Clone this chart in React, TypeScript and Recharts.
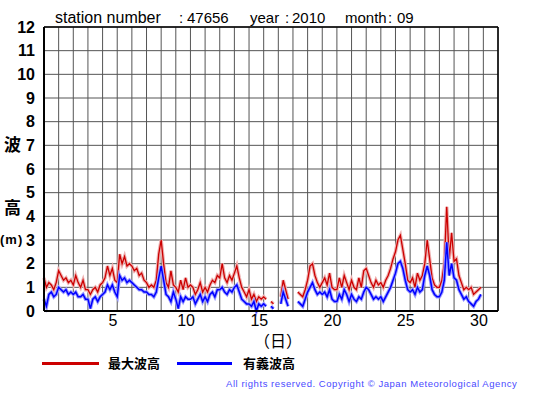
import {
  CartesianGrid,
  Line,
  LineChart,
  ReferenceLine,
  XAxis,
  YAxis,
} from 'recharts'

// 6 readings per day (every 4 hours), Sept 1 .. Sept 30
const stepsPerDay = 6

// 最大波高 (m)
const maxWave: (number | null)[] = [
  1.4, 1.0, 1.2, 1.1, 0.9, 1.2,
  1.7, 1.5, 1.3, 1.4, 1.2, 1.3,
  1.1, 1.5, 1.2, 1.0, 1.3, 0.9,
  0.9, 0.7, 0.9, 1.0, 0.8, 1.1,
  1.2, 1.4, 1.9, 1.5, 1.8, 1.3,
  1.2, 2.4, 2.0, 2.3, 1.9, 2.0,
  1.9, 1.7, 1.8, 1.5, 1.6, 1.3,
  1.2, 1.0, 1.1, 1.0, 1.3, 2.4,
  3.0, 2.0, 1.2, 1.0, 1.7, 1.1,
  1.0, 0.8, 1.3, 0.9, 1.4, 1.0,
  1.1, 1.0, 0.7, 0.9, 1.2, 0.8,
  1.0, 0.8, 1.1, 1.3, 1.2, 1.5,
  1.4, 2.0, 1.4, 1.2, 1.5, 1.3,
  1.6, 1.9, 1.4, 1.0, 0.8, 0.6,
  0.9, 0.5, 0.7, 0.4, 0.6, 0.5,
  0.6, 0.5, null, 0.4, 0.3, null,
  null, 0.6, 1.3, 0.9, 0.5, null,
  0.9, null, 0.8, 0.7, 0.6, 0.9,
  1.3, 1.9, 2.0, 1.5, 1.2, 1.0,
  1.2, 1.4, 1.1, 1.6, 1.0, 0.9,
  0.9, 1.4, 1.0, 1.5, 1.2, 0.9,
  1.3, 1.0, 0.9, 1.4, 1.0, 1.7,
  1.8, 1.5, 1.2, 1.0, 1.3, 1.1,
  1.2, 1.0, 1.3, 1.5, 1.8, 2.2,
  2.5, 3.0, 3.2, 2.6, 2.0, 1.3,
  1.2, 1.4, 1.0, 1.6, 1.3, 1.5,
  2.0, 3.0, 2.2, 1.4, 1.1, 1.0,
  1.0, 1.3, 2.0, 4.4, 2.2, 3.3,
  2.1, 2.2, 1.5, 1.2, 0.9, 1.0,
  0.9, 1.0, 0.7, 0.8, 0.9, 1.0,
]

// 有義波高 (m)
const sigWave: (number | null)[] = [
  0.5, 0.2, 0.7, 0.8, 0.6, 0.7,
  1.0, 0.9, 0.8, 0.9, 0.7, 0.8,
  0.7, 0.8, 0.6, 0.6, 0.7, 0.5,
  0.5, 0.1, 0.5, 0.6, 0.4, 0.6,
  0.7, 0.8, 1.1, 0.9, 1.1, 0.8,
  0.6, 1.5, 1.3, 1.4, 1.2, 1.3,
  1.2, 1.1, 1.0, 0.9, 0.9, 0.8,
  0.8, 0.7, 0.7, 0.6, 0.8, 1.4,
  1.9, 1.3, 0.7, 0.6, 0.4, 0.8,
  0.5, 0.1, 0.6, 0.4, 0.6, 0.5,
  0.5, 0.6, 0.3, 0.5, 0.7, 0.4,
  0.6, 0.4, 0.7, 0.8, 0.6, 0.9,
  0.9, 1.0, 0.8, 0.7, 0.9, 0.8,
  1.0, 1.1, 0.8, 0.5, 0.4, 0.3,
  0.3, 0.2, 0.4, 0.0, 0.3, 0.2,
  0.3, 0.2, null, 0.2, 0.1, null,
  null, 0.3, 0.8, 0.5, 0.2, null,
  0.5, null, 0.4, 0.3, 0.2, 0.5,
  0.8, 1.0, 1.2, 0.9, 0.7, 0.8,
  0.7, 0.8, 0.6, 0.9, 0.5, 0.4,
  0.4, 0.7, 0.5, 0.9, 0.7, 0.4,
  0.7, 0.5, 0.4, 0.6, 0.5, 0.8,
  1.0, 0.9, 0.7, 0.5, 0.6, 0.5,
  0.6, 0.4, 0.6, 0.8, 1.0, 1.3,
  1.6, 2.0, 2.1, 1.8, 1.3, 0.9,
  0.8, 0.9, 0.7, 1.0, 0.8, 0.9,
  1.5, 1.9, 1.5, 0.9, 0.7, 0.6,
  0.6, 0.8, 1.3, 2.9, 1.5, 2.0,
  1.4, 1.3, 0.9, 0.7, 0.5, 0.6,
  0.4, 0.3, 0.2, 0.4, 0.5, 0.7,
]

const dayTicks = Array.from({ length: 32 }, (_, i) => i + 1)
const labelDays = [5, 10, 15, 20, 25, 30]
const yTicks = Array.from({ length: 13 }, (_, i) => i)

const data = maxWave.map((v, i) => ({
  t: 1 + i / stepsPerDay,
  max: v,
  sig: sigWave[i],
}))

const W = 555
const H = 395
const plotLeft = 44
const plotRight = 498
const dayPx = (plotRight - plotLeft) / 31

const sans = '"Liberation Sans", Arial, sans-serif'
const cjk = '"Noto Sans CJK JP", sans-serif'

function DayTick(props: any) {
  const { x, y, payload } = props
  if (!labelDays.includes(payload.value)) return null
  return (
    <text
      x={x + dayPx * 0.7}
      y={y + 7}
      textAnchor='middle'
      fontSize={16}
      fontFamily={sans}
      fill='#000'
    >
      {payload.value}
    </text>
  )
}

const txt = (top: number, left: number, size = 15, bold = false) => ({
  position: 'absolute' as const,
  top,
  left,
  fontFamily: sans,
  fontSize: size,
  fontWeight: bold ? 'bold' : 'normal',
  whiteSpace: 'pre' as const,
  lineHeight: 1,
})

export default function App() {
  return (
    <div
      style={{
        position: 'absolute',
        left: 0,
        top: 0,
        width: W,
        height: H,
        background: '#fff',
        overflow: 'hidden',
      }}
    >
      <LineChart
        width={W}
        height={H}
        data={data}
        margin={{ top: 27, right: W - plotRight, left: 4, bottom: 64 }}
      >
        <CartesianGrid stroke='#555' strokeWidth={1} />
        <XAxis
          dataKey='t'
          type='number'
          domain={[1, 32]}
          ticks={dayTicks}
          interval={0}
          height={20}
          tickLine={false}
          axisLine={{ stroke: '#000', strokeWidth: 2 }}
          tick={<DayTick />}
        />
        <YAxis
          type='number'
          domain={[0, 12]}
          ticks={yTicks}
          interval={0}
          width={40}
          tickLine={false}
          tickMargin={3}
          axisLine={{ stroke: '#000', strokeWidth: 2 }}
          tick={{
            fill: '#000',
            fontSize: 16,
            fontWeight: 'bold',
            fontFamily: sans,
          }}
        />
        <ReferenceLine y={12} stroke='#000' strokeWidth={1.5} />
        <ReferenceLine x={32} stroke='#000' strokeWidth={1.5} />
        {/* pale halo under each series, like the hourly scatter in the original */}
        <Line
          type='linear'
          dataKey='max'
          stroke='#eeb0b0'
          strokeWidth={3.5}
          dot={false}
          isAnimationActive={false}
        />
        <Line
          type='linear'
          dataKey='max'
          stroke='#cc0000'
          strokeWidth={1.3}
          dot={false}
          isAnimationActive={false}
        />
        <Line
          type='linear'
          dataKey='sig'
          stroke='#9a9aff'
          strokeWidth={3.5}
          dot={false}
          isAnimationActive={false}
        />
        <Line
          type='linear'
          dataKey='sig'
          stroke='#0000ff'
          strokeWidth={1.5}
          dot={false}
          isAnimationActive={false}
        />
      </LineChart>

      {/* title */}
      <div style={txt(10, 55, 16)}>station number</div>
      <div style={txt(10, 179, 15)}>:</div>
      <div style={txt(10, 187, 15)}>47656</div>
      <div style={txt(10, 250, 15)}>year</div>
      <div style={txt(10, 285, 15)}>:</div>
      <div style={txt(10, 292, 15)}>2010</div>
      <div style={txt(10, 345, 15)}>month</div>
      <div style={txt(10, 388, 15)}>:</div>
      <div style={txt(10, 397, 15)}>09</div>

      {/* y axis title */}
      <div style={{ position: 'absolute', top: 131, left: 4, fontFamily: cjk, fontSize: 17, fontWeight: 'bold' }}>波</div>
      <div style={{ position: 'absolute', top: 194, left: 4, fontFamily: cjk, fontSize: 17, fontWeight: 'bold' }}>高</div>
      <div style={{ ...txt(233, 0, 13, true), letterSpacing: 1 }}>(m)</div>

      {/* x axis title */}
      <div style={{ position: 'absolute', top: 328, left: 254, fontFamily: cjk, fontSize: 16 }}>（日）</div>

      {/* legend */}
      <div style={{ position: 'absolute', top: 362, left: 42, width: 57, height: 3, background: '#cc0000' }} />
      <div style={{ position: 'absolute', top: 353, left: 108, fontFamily: cjk, fontSize: 13, fontWeight: 'bold' }}>最大波高</div>
      <div style={{ position: 'absolute', top: 362, left: 177, width: 55, height: 3, background: '#0000ff' }} />
      <div style={{ position: 'absolute', top: 353, left: 243, fontFamily: cjk, fontSize: 13, fontWeight: 'bold' }}>有義波高</div>

      {/* copyright */}
      <div
        style={{
          ...txt(379, 226, 9.5),
          letterSpacing: 0.55,
          color: '#4a4aff',
        }}
      >
        All rights reserved. Copyright © Japan Meteorological Agency
      </div>
    </div>
  )
}
